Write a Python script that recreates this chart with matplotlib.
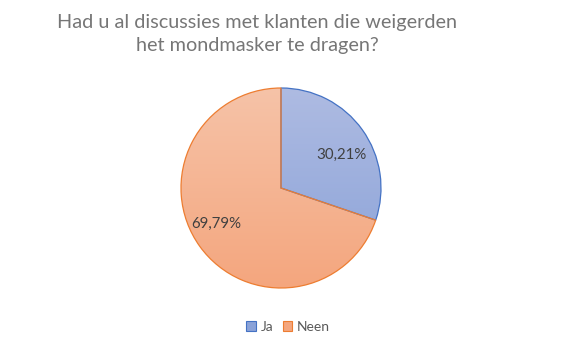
import matplotlib
matplotlib.use("Agg")
import matplotlib.pyplot as plt
import numpy as np
from matplotlib.colors import LinearSegmentedColormap
from matplotlib.patches import Patch

categories = ["Ja", "Neen"]
values = [30.21, 69.79]
value_labels = ["30,21%", "69,79%"]
title = "Had u al discussies met klanten die weigerden\nhet mondmasker te dragen?"

W, H = 578, 346
fig = plt.figure(figsize=(W / 100, H / 100), dpi=100)
ax = fig.add_axes([0, 0, 1, 1])

cx, cy, r = 281, H - 188, 100
edge_cols = ["#4472c4", "#ed7d31"]
grads = [("#aebbe2", "#8aa2d8"), ("#f6c3a8", "#f4a67e")]

wedges, _ = ax.pie(values, startangle=90, counterclock=False, center=(cx, cy),
                   radius=r, frame=True,
                   wedgeprops=dict(linewidth=0.9))
ax.set_xlim(0, W)
ax.set_ylim(0, H)
ax.set_aspect("equal")
ax.axis("off")

grad = np.linspace(0, 1, 256).reshape(-1, 1)
for w, ec, (c0, c1) in zip(wedges, edge_cols, grads):
    w.set_facecolor("none")
    w.set_edgecolor(ec)
    w.set_zorder(3)
    cmap = LinearSegmentedColormap.from_list("g", [c0, c1])
    im = ax.imshow(grad, cmap=cmap, extent=(cx - r, cx + r, cy - r, cy + r),
                   origin="upper", aspect="auto", zorder=2, interpolation="bilinear")
    im.set_clip_path(w)

label_pos = [(341, H - 155), (216, H - 224)]
for (x, y), t in zip(label_pos, value_labels):
    ax.text(x, y, t, ha="center", va="center", fontsize=10.8, color="#404040",
            family="Lato")

ax.text(257, H - 34, title, ha="center", va="center", fontsize=14.3,
        color="#767676", family="Lato", linespacing=1.38)

handles = [Patch(facecolor=g[1], edgecolor=e, linewidth=0.8)
           for g, e in zip(grads, edge_cols)]
leg = fig.legend(handles, categories, loc="center", bbox_to_anchor=(288 / W, 1 - 327 / H),
                 ncol=2, frameon=False, handlelength=0.7,
                 handleheight=0.7, handletextpad=0.3, columnspacing=0.7,
                 prop={"family": "Lato", "size": 10})
for t in leg.get_texts():
    t.set_color("#595959")

fig.savefig("out.png", dpi=100, facecolor="white")
